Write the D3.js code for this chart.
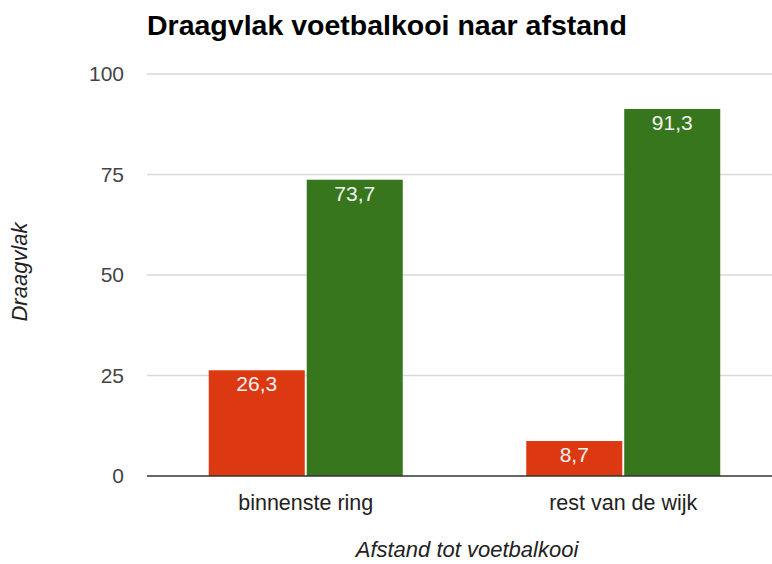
<!DOCTYPE html>
<html>
<head>
<meta charset="utf-8">
<script src="https://cdn.jsdelivr.net/npm/d3@7"></script>
<style>
  body { margin: 0; background: #fff; }
  svg { font-family: "Liberation Sans", Arial, sans-serif; }
</style>
</head>
<body>
<svg id="chart"></svg>
<script>
var w = 772;
var h = 564;

// data
var categories = ["binnenste ring", "rest van de wijk"];
var seriesNames = ["tegen", "voor"];
var seriesColors = ["#dc3912", "#38761d"];
var valuesTegen = [26.3, 8.7];
var valuesVoor = [73.7, 91.3];
var yTicks = [0, 25, 50, 75, 100];

var plotLeft = 147, plotRight = 782, plotTop = 74, plotBottom = 476;

var rows = categories.map(function(c, i){
  return { cat: c, vals: [valuesTegen[i], valuesVoor[i]] };
});

var svg = d3.select("#chart")
            .attr("width", w)
            .attr("height", h);

var xScale = d3.scaleBand()
               .domain(categories)
               .range([plotLeft, plotRight])
               .paddingInner(0.389)
               .paddingOuter(0.1945);

var xInner = d3.scaleBand()
               .domain(d3.range(seriesNames.length))
               .range([0, xScale.bandwidth()])
               .paddingInner(0.02);

var yScale = d3.scaleLinear()
               .domain([0, 100])
               .range([plotBottom, plotTop]);

// gridlines
svg.append("g")
   .selectAll("line")
   .data(yTicks.slice(1))
   .enter()
   .append("line")
   .attr("x1", plotLeft)
   .attr("x2", plotRight)
   .attr("y1", function(d){ return yScale(d); })
   .attr("y2", function(d){ return yScale(d); })
   .attr("stroke", "#d9d9d9")
   .attr("stroke-width", 1.5);

// y tick labels
var yAxis = d3.axisLeft(yScale).tickValues(yTicks).tickSize(0).tickPadding(23);
svg.append("g")
   .attr("class", "y axis")
   .attr("transform", "translate(" + plotLeft + ",0)")
   .call(yAxis)
   .call(function(g){ g.select(".domain").remove(); })
   .selectAll("text")
   .attr("font-size", "21px")
   .attr("font-family", "Liberation Sans, Arial, sans-serif")
   .attr("fill", "#444");

// bars
var groups = svg.append("g")
   .selectAll("g")
   .data(rows)
   .enter()
   .append("g")
   .attr("transform", function(d){ return "translate(" + xScale(d.cat) + ",0)"; });

groups.selectAll("rect")
   .data(function(d){ return d.vals; })
   .enter()
   .append("rect")
   .attr("x", function(d, i){ return xInner(i); })
   .attr("width", xInner.bandwidth())
   .attr("y", function(d){ return yScale(d); })
   .attr("height", function(d){ return plotBottom - yScale(d); })
   .attr("fill", function(d, i){ return seriesColors[i]; });

groups.selectAll("text")
   .data(function(d){ return d.vals; })
   .enter()
   .append("text")
   .text(function(d){ return String(d).replace(".", ","); })
   .attr("x", function(d, i){ return xInner(i) + xInner.bandwidth() / 2; })
   .attr("y", function(d){ return yScale(d) + 21; })
   .attr("text-anchor", "middle")
   .attr("font-size", "21px")
   .attr("fill", "#f2f2f2");

// baseline
svg.append("line")
   .attr("x1", plotLeft)
   .attr("x2", plotRight)
   .attr("y1", yScale(0))
   .attr("y2", yScale(0))
   .attr("stroke", "#333")
   .attr("stroke-width", 1.5);

// x axis labels
var xAxis = d3.axisBottom(xScale).tickSize(0).tickPadding(19);
svg.append("g")
   .attr("class", "x axis")
   .attr("transform", "translate(0," + plotBottom + ")")
   .call(xAxis)
   .call(function(g){ g.select(".domain").remove(); })
   .selectAll("text")
   .attr("font-size", "21.5px")
   .attr("font-family", "Liberation Sans, Arial, sans-serif")
   .attr("fill", "#222");

// title
svg.append("text")
   .attr("x", 147)
   .attr("y", 35)
   .attr("font-size", "28.5px")
   .attr("font-weight", "bold")
   .attr("fill", "#000")
   .text("Draagvlak voetbalkooi naar afstand");

// axis titles
svg.append("text")
   .attr("x", 467)
   .attr("y", 557)
   .attr("text-anchor", "middle")
   .attr("font-size", "22px")
   .attr("font-style", "italic")
   .attr("fill", "#222")
   .text("Afstand tot voetbalkooi");

svg.append("text")
   .attr("transform", "translate(27,272) rotate(-90)")
   .attr("text-anchor", "middle")
   .attr("font-size", "22px")
   .attr("font-style", "italic")
   .attr("fill", "#222")
   .text("Draagvlak");
</script>
</body>
</html>
